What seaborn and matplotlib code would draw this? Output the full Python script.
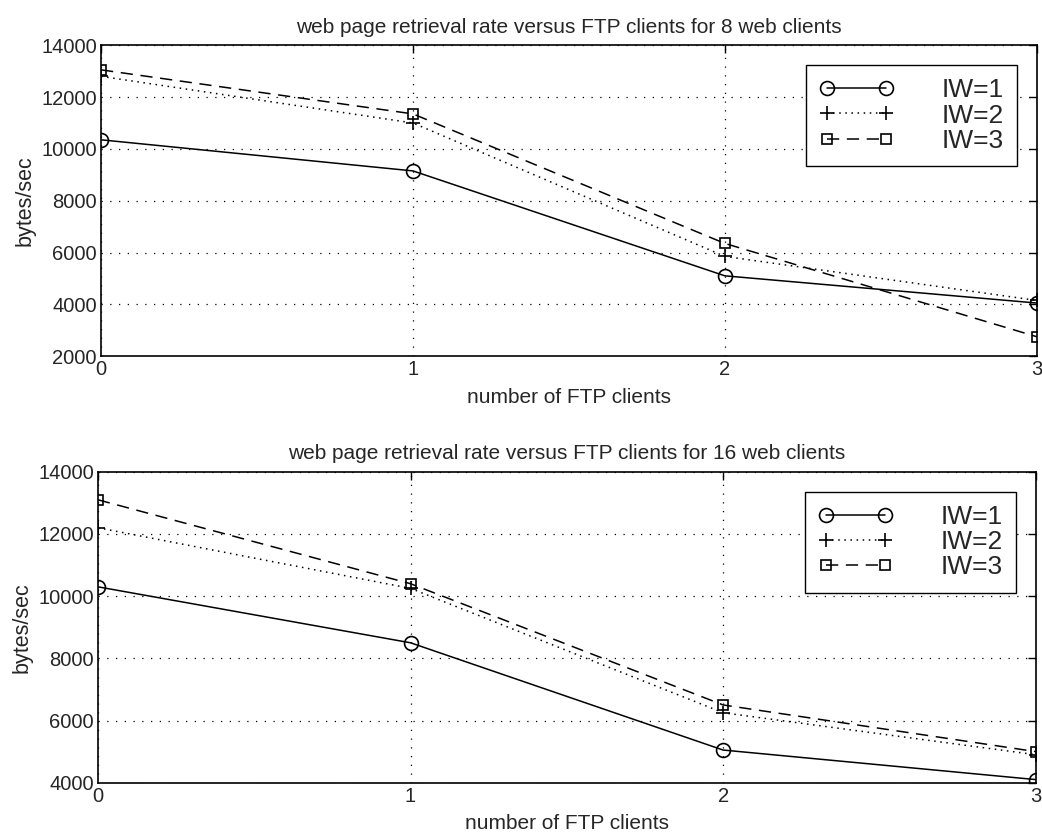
import matplotlib
matplotlib.use("Agg")
import matplotlib.pyplot as plt
import seaborn as sns

ftp_clients = [0, 1, 2, 3]

# 8 web clients
web8_iw1 = [10350, 9150, 5100, 4050]
web8_iw2 = [12800, 11000, 5850, 4150]
web8_iw3 = [13050, 11350, 6350, 2750]

# 16 web clients
web16_iw1 = [10300, 8500, 5050, 4100]
web16_iw2 = [12200, 10250, 6250, 4900]
web16_iw3 = [13100, 10400, 6500, 5000]

labels = ["IW=1", "IW=2", "IW=3"]
titles = ["web page retrieval rate versus FTP clients for 8 web clients",
          "web page retrieval rate versus FTP clients for 16 web clients"]

sns.set_style("white")
plt.rcParams["font.family"] = ["Liberation Sans", "DejaVu Sans"]

fig = plt.figure(figsize=(10.42, 8.38), dpi=100)
ax1 = fig.add_axes([0.097, 0.575, 0.898, 0.371])
ax2 = fig.add_axes([0.094, 0.066, 0.900, 0.371])

# marker, dash pattern, marker size
styles = [("o", (None, None), 10), ("+", (1, 3), 10), ("s", (8, 5), 7)]

for ax, series, title, ylim in [
    (ax1, [web8_iw1, web8_iw2, web8_iw3], titles[0], (2000, 14000)),
    (ax2, [web16_iw1, web16_iw2, web16_iw3], titles[1], (4000, 14000)),
]:
    for vals, lab, (mk, dash, ms) in zip(series, labels, styles):
        kw = {} if dash[0] is None else {"dashes": dash}
        sns.lineplot(x=ftp_clients, y=vals, ax=ax, color="black", linewidth=1.1,
                     marker=mk, markersize=ms,
                     markerfacecolor="none", markeredgecolor="black",
                     markeredgewidth=1.2, label=lab, **kw)
    ax.set_xlim(0, 3)
    ax.set_ylim(*ylim)
    ax.set_xticks(ftp_clients)
    ax.set_yticks(range(ylim[0], 14001, 2000))
    ax.grid(True, linestyle=(0, (1, 6)), color="black", linewidth=0.9)
    ax.tick_params(direction="in", top=True, right=True, length=6,
                   labelsize=14.5, color="black", width=1, pad=3)
    for sp in ax.spines.values():
        sp.set_visible(True)
        sp.set_color("black")
        sp.set_linewidth(1.2)
    ax.set_title(title, fontsize=15, pad=9)
    ax.set_xlabel("number of FTP clients", fontsize=15, labelpad=6)
    ax.set_ylabel("bytes/sec", fontsize=15.5, labelpad=4)
    leg = ax.legend(loc="upper right", numpoints=2, fontsize=19,
                    handlelength=2.85, handletextpad=1.8, borderpad=0.5,
                    labelspacing=0.05, borderaxespad=0.75, fancybox=False,
                    framealpha=1, edgecolor="black")
    leg.get_frame().set_linewidth(1.0)

fig.savefig("out.png", dpi=100)
